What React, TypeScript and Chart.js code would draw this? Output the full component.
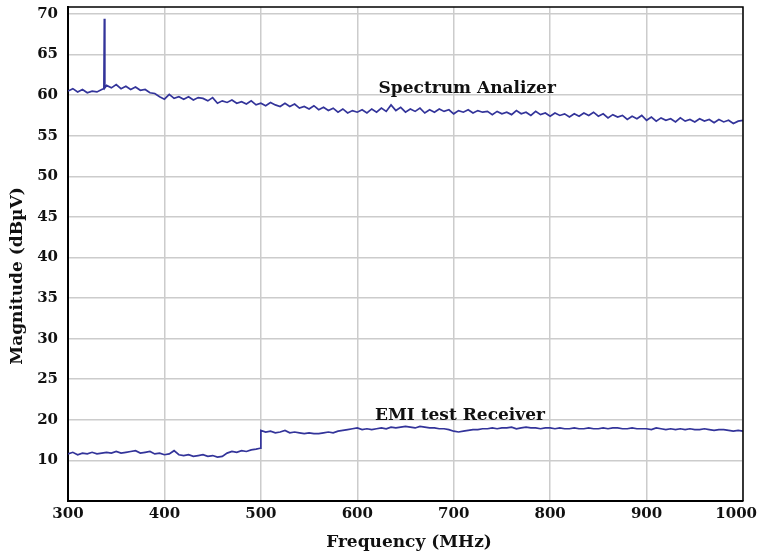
import React, { useEffect, useRef } from "react";
import { Chart, registerables } from "chart.js";

Chart.register(...registerables);

// ---- data ----
const FREQ_START = 300; // MHz
const FREQ_STEP = 5; // MHz

const spectrumAnalyzer = [
  60.5, 60.8, 60.4, 60.7, 60.3, 60.5, 60.4, 60.7, 61.2, 60.9,
  61.3, 60.8, 61.1, 60.7, 61.0, 60.6, 60.7, 60.3, 60.2, 59.8,
  59.5, 60.1, 59.6, 59.8, 59.5, 59.8, 59.4, 59.7, 59.6, 59.3,
  59.7, 59.0, 59.3, 59.1, 59.4, 59.0, 59.2, 58.9, 59.3, 58.8,
  59.0, 58.7, 59.1, 58.8, 58.6, 59.0, 58.6, 58.9, 58.4, 58.6,
  58.3, 58.7, 58.2, 58.5, 58.1, 58.4, 57.9, 58.3, 57.8, 58.1,
  57.9, 58.2, 57.8, 58.3, 57.9, 58.4, 58.0, 58.8, 58.1, 58.5,
  57.9, 58.3, 58.0, 58.4, 57.8, 58.2, 57.9, 58.3, 58.0, 58.2,
  57.7, 58.1, 57.9, 58.2, 57.8, 58.1, 57.9, 58.0, 57.6, 58.0,
  57.7, 57.9, 57.6, 58.1, 57.7, 57.9, 57.5, 58.0, 57.6, 57.8,
  57.4, 57.8, 57.5, 57.7, 57.3, 57.7, 57.4, 57.8, 57.5, 57.9,
  57.4, 57.7, 57.2, 57.6, 57.3, 57.5, 57.0, 57.4, 57.1, 57.5,
  56.9, 57.3, 56.8, 57.2, 56.9, 57.1, 56.7, 57.2, 56.8, 57.0,
  56.7, 57.1, 56.8, 57.0, 56.6, 57.0, 56.7, 56.9, 56.5, 56.8,
  56.9,
];

const emiReceiver = [
  15.8, 16.0, 15.7, 15.9, 15.8, 16.0, 15.8, 15.9, 16.0, 15.9,
  16.1, 15.9, 16.0, 16.1, 16.2, 15.9, 16.0, 16.1, 15.8, 15.9,
  15.7, 15.8, 16.2, 15.7, 15.6, 15.7, 15.5, 15.6, 15.7, 15.5,
  15.6, 15.4, 15.5, 15.9, 16.1, 16.0, 16.2, 16.1, 16.3, 16.4,
  18.7, 18.5, 18.6, 18.4, 18.5, 18.7, 18.4, 18.5, 18.4, 18.3,
  18.4, 18.3, 18.3, 18.4, 18.5, 18.4, 18.6, 18.7, 18.8, 18.9,
  19.0, 18.8, 18.9, 18.8, 18.9, 19.0, 18.9, 19.1, 19.0, 19.1,
  19.2, 19.1, 19.0, 19.2, 19.1, 19.0, 19.0, 18.9, 18.9, 18.8,
  18.6, 18.5, 18.6, 18.7, 18.8, 18.8, 18.9, 18.9, 19.0, 18.9,
  19.0, 19.0, 19.1, 18.9, 19.0, 19.1, 19.0, 19.0, 18.9, 19.0,
  19.0, 18.9, 19.0, 18.9, 18.9, 19.0, 18.9, 18.9, 19.0, 18.9,
  18.9, 19.0, 18.9, 19.0, 19.0, 18.9, 18.9, 19.0, 18.9, 18.9,
  18.9, 18.8, 19.0, 18.9, 18.8, 18.9, 18.8, 18.9, 18.8, 18.9,
  18.8, 18.8, 18.9, 18.8, 18.7, 18.8, 18.8, 18.7, 18.6, 18.7,
  18.6,
];

// extra samples off the 5 MHz grid
const spectrumSpikeFreqs = [337.2, 337.7, 338.2];
const spectrumSpikeValues = [60.8, 69.4, 60.9];
const emiStepFreqs = [499.2];
const emiStepValues = [16.5];

const xTickValues = [300, 400, 500, 600, 700, 800, 900, 1000];
const xTickLabels = ["300", "400", "500", "600", "700", "800", "900", "1000"];
const yTickValues = [15, 20, 25, 30, 35, 40, 45, 50, 55, 60, 65, 70];
const yTickLabels = ["10", "20", "25", "30", "35", "40", "45", "50", "55", "60", "65", "70"];

const seriesNames = ["Spectrum Analizer", "EMI test Receiver"];
const xTitle = "Frequency (MHz)";
const yTitle = "Magnitude (dBµV)";

// ---- styling / placement ----
const LINE_COLOR = "#33349a";
const FONT_FAMILY = '"DejaVu Serif", serif';
const labelAnchors = [
  { x: 714, y: 60.85 },
  { x: 706.5, y: 20.55 },
];

function toPoints(vals: number[], extraF: number[], extraV: number[]) {
  const pts = vals.map((v, i) => ({ x: FREQ_START + FREQ_STEP * i, y: v }));
  extraF.forEach((f, i) => pts.push({ x: f, y: extraV[i] }));
  pts.sort((a, b) => a.x - b.x);
  return pts;
}

const decorPlugin = {
  id: "decor",
  afterDraw(chart: any) {
    const { ctx, chartArea, scales, width } = chart;
    ctx.save();
    // frame (top & right)
    ctx.strokeStyle = "#000";
    ctx.lineWidth = 1.5;
    ctx.beginPath();
    ctx.moveTo(chartArea.left, chartArea.top);
    ctx.lineTo(chartArea.right, chartArea.top);
    ctx.lineTo(chartArea.right, chartArea.bottom);
    ctx.stroke();
    ctx.fillStyle = "#111";
    ctx.textAlign = "center";
    ctx.textBaseline = "middle";
    // x tick labels (kept inside the canvas at the right edge)
    ctx.font = `bold 15px ${FONT_FAMILY}`;
    xTickValues.forEach((v, i) => {
      const label = xTickLabels[i];
      const w = ctx.measureText(label).width;
      let px = scales.x.getPixelForValue(v);
      px = Math.min(px, width - 1 - w / 2);
      ctx.fillText(label, px, chartArea.bottom + 13);
    });
    // series labels
    ctx.font = `bold 17px ${FONT_FAMILY}`;
    seriesNames.forEach((name, i) => {
      const a = labelAnchors[i];
      ctx.fillText(name, scales.x.getPixelForValue(a.x), scales.y.getPixelForValue(a.y));
    });
    // axis titles
    ctx.font = `bold 17px ${FONT_FAMILY}`;
    ctx.fillText(xTitle, 409, 543);
    ctx.translate(18, 276);
    ctx.rotate(-Math.PI / 2);
    ctx.fillText(yTitle, 0, 0);
    ctx.restore();
  },
};

export default function App() {
  const canvasRef = useRef<HTMLCanvasElement | null>(null);

  useEffect(() => {
    if (!canvasRef.current) return;
    const chart = new Chart(canvasRef.current, {
      type: "line",
      data: {
        datasets: [
          {
            label: seriesNames[0],
            data: toPoints(spectrumAnalyzer, spectrumSpikeFreqs, spectrumSpikeValues),
            borderColor: LINE_COLOR,
            borderWidth: 1.7,
            pointRadius: 0,
            tension: 0,
            fill: false,
          },
          {
            label: seriesNames[1],
            data: toPoints(emiReceiver, emiStepFreqs, emiStepValues),
            borderColor: LINE_COLOR,
            borderWidth: 1.7,
            pointRadius: 0,
            tension: 0,
            fill: false,
          },
        ],
      },
      options: {
        animation: false,
        responsive: false,
        devicePixelRatio: 1,
        layout: { padding: { top: 7, right: 15, left: 0, bottom: 0 } },
        plugins: {
          legend: { display: false },
          tooltip: { enabled: false },
        },
        scales: {
          x: {
            type: "linear",
            min: 300,
            max: 1000,
            afterBuildTicks: (axis: any) => {
              axis.ticks = xTickValues.map((v) => ({ value: v }));
            },
            afterFit: (axis: any) => {
              axis.height = 54;
              axis.paddingLeft = 0;
              axis.paddingRight = 0;
            },
            ticks: { display: false, autoSkip: false },
            grid: { color: "#cccccc", lineWidth: 1.5, drawTicks: false },
            border: { color: "#000", width: 2 },
          },
          y: {
            type: "linear",
            min: 10,
            max: 70.86,
            afterBuildTicks: (axis: any) => {
              axis.ticks = yTickValues.map((v) => ({ value: v }));
            },
            afterFit: (axis: any) => {
              axis.width = 68;
              axis.paddingTop = 0;
              axis.paddingBottom = 0;
            },
            ticks: {
              autoSkip: false,
              padding: 10,
              color: "#111",
              font: { family: FONT_FAMILY, size: 15, weight: "bold" },
              callback: (v: any) => {
                const i = yTickValues.indexOf(Number(v));
                return i >= 0 ? yTickLabels[i] : "";
              },
            },
            grid: { color: "#cccccc", lineWidth: 1.5, drawTicks: false },
            border: { color: "#000", width: 2 },
          },
        },
      },
      plugins: [decorPlugin],
    } as any);
    return () => chart.destroy();
  }, []);

  return (
    <div style={{ position: "fixed", left: 0, top: 0, width: 758, height: 555, background: "#fff" }}>
      <canvas ref={canvasRef} width={758} height={555} />
    </div>
  );
}
